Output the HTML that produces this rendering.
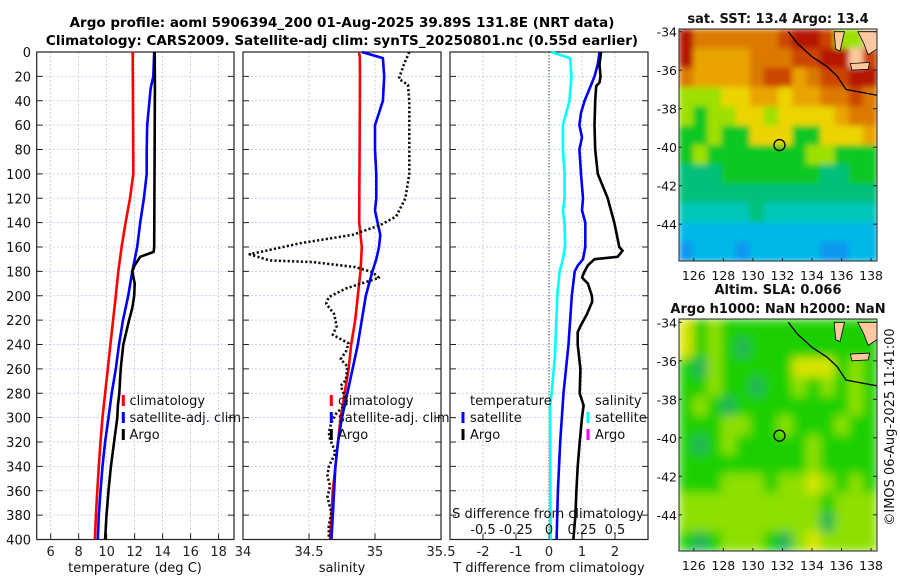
<!DOCTYPE html>
<html><head><meta charset="utf-8"><style>
html,body{margin:0;padding:0;background:#fff;}
svg{display:block;font-family:"DejaVu Sans","Liberation Sans",sans-serif;}
</style></head><body>
<svg id="fig" width="900" height="580" viewBox="0 0 900 580" xmlns="http://www.w3.org/2000/svg">
<defs>
<filter id="soft" x="0" y="0" width="1" height="1"><feGaussianBlur stdDeviation="3" edgeMode="duplicate"/></filter>
<filter id="soft2" x="0" y="0" width="1" height="1"><feGaussianBlur stdDeviation="5" edgeMode="duplicate"/></filter>
<clipPath id="clip1"><rect x="679" y="29" width="198" height="232"/></clipPath>
<clipPath id="clip2"><rect x="679" y="319" width="198" height="232"/></clipPath>
</defs>
<text x="342" y="27" text-anchor="middle" font-size="13.5" font-weight="bold">Argo profile: aoml 5906394_200 01-Aug-2025 39.89S 131.8E (NRT data)</text>
<text x="342" y="45" text-anchor="middle" font-size="13.5" font-weight="bold">Climatology: CARS2009. Satellite-adj clim: synTS_20250801.nc (0.55d earlier)</text>
<g id="plots"></g>
</svg>
<script>
// ---------- data ----------
const depthTicks = [0,20,40,60,80,100,120,140,160,180,200,220,240,260,280,300,320,340,360,380,400];
const tempTicks = [6,8,10,12,14,16,18];
const salTicks = [34,34.5,35,35.5];
const salTickLabels = ["34","34.5","35","35.5"];
const diffTicks = [-2,-1,0,1,2];
const sdiffTicks = [-0.5,-0.25,0,0.25,0.5];
const sdiffTickLabels = ["-0.5","-0.25","0","0.25","0.5"];

const tClimDepth = [0,100,120,140,160,180,200,220,240,260,280,300,320,340,360,380,400];
const tClim = [11.86,11.9,11.67,11.35,11.07,10.83,10.65,10.46,10.27,10.08,9.89,9.7,9.56,9.44,9.33,9.23,9.16];
const tSatDepth = [0,20,30,60,80,100,120,140,160,180,200,220,240,260,280,300,320,340,360,380,400];
const tSat = [13.4,13.33,13.14,12.9,12.86,12.86,12.66,12.4,12.18,11.83,11.54,11.17,10.88,10.65,10.36,10.13,9.89,9.7,9.56,9.44,9.37];
const tArgoDepth = [0,30,160,164,168,175,180,190,200,210,220,240,260,280,290,300,320,340,360,380,400];
const tArgo = [13.43,13.45,13.4,13.36,12.4,12.0,11.83,12.0,11.97,11.83,11.6,11.19,11.0,10.9,10.8,10.76,10.53,10.3,10.13,9.99,9.89];

const sClimDepth = [0,5,20,140,160,180,200,220,240,260,280,300,320,340,360,380,400];
const sClim = [34.88,34.885,34.886,34.88,34.9,34.89,34.87,34.85,34.82,34.8,34.77,34.74,34.72,34.7,34.68,34.67,34.66];
const sSatDepth = [0,5,20,40,50,60,80,100,120,130,140,150,160,170,180,200,220,240,260,280,300,320,340,360,380,400];
const sSat = [34.9,35.06,35.07,35.06,35.03,35.0,35.0,35.01,35.01,35.0,35.02,35.04,35.03,35.01,34.98,34.93,34.9,34.87,34.83,34.79,34.75,34.72,34.7,34.69,34.68,34.67];
const sArgoDepth = [0,10,22,27,40,100,120,135,142,150,157,166,171,172.4,176.5,180.6,185.3,188.8,194,201,206.5,215,225,232,239,245.6,252,258,269,274,288,296,304,312,318,323,329,340,348,356,365,370,378,389,400];
const sArgo = [35.26,35.22,35.18,35.25,35.26,35.26,35.23,35.16,35.04,34.83,34.43,34.05,34.2,34.53,34.85,34.98,35.03,34.93,34.78,34.65,34.63,34.69,34.71,34.68,34.8,34.78,34.74,34.79,34.78,34.74,34.79,34.71,34.67,34.65,34.66,34.68,34.7,34.65,34.64,34.66,34.64,34.65,34.67,34.65,34.65];

const dSatDepth = [0,10,20,30,40,50,60,70,80,100,120,130,140,160,170,175,180,200,240,280,320,360,400];
const dSat = [1.53,1.48,1.38,1.23,1.08,0.97,0.92,1.0,0.92,0.97,1.03,1.0,1.1,1.1,1.03,0.88,0.78,0.69,0.59,0.44,0.34,0.27,0.23];
const dArgoDepth = [0,10,20,25,28,40,60,80,100,120,140,160,163,168,170,175,180,185,190,200,205,215,225,230,240,260,280,290,300,320,340,360,380,400];
const dArgo = [1.58,1.53,1.56,1.53,1.43,1.4,1.38,1.4,1.48,1.78,1.98,2.13,2.23,2.08,1.38,1.18,1.08,1.0,1.18,1.3,1.31,1.15,0.95,0.87,0.87,0.95,0.93,1.05,1.0,0.93,0.87,0.83,0.8,0.74];
const sdSatDepth = [0,5,20,40,60,80,100,120,130,140,160,170,180,200,250,280,290,400];
const sdSat = [0.018,0.16,0.17,0.155,0.105,0.105,0.118,0.118,0.105,0.118,0.122,0.105,0.08,0.063,0.045,0.02,0.008,0.012];

// ---------- helpers ----------
const NS="http://www.w3.org/2000/svg";
const root=document.getElementById('plots');
function mk(tag,attrs,parent){const e=document.createElementNS(NS,tag);for(const k in attrs)e.setAttribute(k,attrs[k]);(parent||root).appendChild(e);return e;}
const Y0=52,Y1=539.5;
function yD(d){return Y0+(Y1-Y0)*d/400;}
function lin(d0,d1,r0,r1){return v=>r0+(v-d0)*(r1-r0)/(d1-d0);}

function panel(name,x0,x1,xs,xt,xtl,gridX){
  const g=mk('g',{});
  
  
  depthTicks.forEach(d=>{if(d>0&&d<400){const l=mk('line',{x1:x0,x2:x1,y1:yD(d),y2:yD(d),stroke:'#b8c4f0','stroke-width':0.8,'stroke-dasharray':'2,2'},g);}});
  gridX.forEach(v=>{const l=mk('line',{x1:xs(v),x2:xs(v),y1:Y0,y2:Y1,stroke:'#c8c0e0','stroke-width':0.8,'stroke-dasharray':'2,2'},g);});
  depthTicks.forEach(d=>{mk('line',{x1:x0,x2:x0+6,y1:yD(d),y2:yD(d),stroke:'#222','stroke-width':1},g);mk('line',{x1:x1-6,x2:x1,y1:yD(d),y2:yD(d),stroke:'#222','stroke-width':1},g);});
  xt.forEach((v,i)=>{mk('line',{x1:xs(v),x2:xs(v),y1:Y1,y2:Y1-6,stroke:'#222','stroke-width':1},g);
    const t=mk('text',{x:xs(v),y:556,'text-anchor':'middle','font-size':13,fill:'#222'},g);t.textContent=xtl[i];
    });
  const b=mk('rect',{x:x0,y:Y0,width:x1-x0,height:Y1-Y0,fill:'none',stroke:'#222','stroke-width':1.2},g);
  
  return g;
}
function line(g,name,xs,vals,depths,color,dash){
  const pts=vals.map((v,i)=>xs(v).toFixed(1)+','+yD(depths[i]).toFixed(1)).join(' ');
  const p=mk('polyline',{points:pts,fill:'none',stroke:color,'stroke-width':2.6,'stroke-linejoin':'round'},g);
  if(dash)p.setAttribute('stroke-dasharray',dash);
  
  
}
function txt(g,name,x,y,s,size,anchor){const t=mk('text',{x:x,y:y,'font-size':size||13,'text-anchor':anchor||'start',fill:'#111'},g);t.textContent=s;return t;}
function legMark(g,name,x,y,color){const r=mk('rect',{x:x-1.5,y:y-11,width:3,height:11,fill:color},g);}

// ---------- panel 1: temperature ----------
const xT=lin(5,19.1,36.7,234);
const p1=panel('temperature-panel',36.7,234,xT,tempTicks,tempTicks.map(String),tempTicks);
depthTicks.forEach(d=>{txt(p1,'y-tick-label',31,yD(d)+5,String(d),13,'end');});
line(p1,'temp-climatology-line',xT,tClim,tClimDepth,'#ff0000');
line(p1,'temp-satellite-line',xT,tSat,tSatDepth,'#0000ff');
line(p1,'temp-argo-line',xT,tArgo,tArgoDepth,'#000000');
legMark(p1,'legend-climatology-marker',123.3,406,'#ff0000');txt(p1,'legend-climatology',129.5,405,'climatology');
legMark(p1,'legend-satellite-marker',123.3,423,'#0000ff');txt(p1,'legend-satellite',129.5,422,'satellite-adj. clim');
legMark(p1,'legend-argo-marker',123.3,440,'#000000');txt(p1,'legend-argo',129.5,439,'Argo');
txt(p1,'x-axis-title-temperature',135,572,'temperature (deg C)',13,'middle');

// ---------- panel 2: salinity ----------
const xS=lin(34,35.5,243,441);
const p2=panel('salinity-panel',243,441,xS,salTicks,salTickLabels,[34.5,35]);
line(p2,'sal-climatology-line',xS,sClim,sClimDepth,'#ff0000');
line(p2,'sal-satellite-line',xS,sSat,sSatDepth,'#0000ff');
line(p2,'sal-argo-line',xS,sArgo,sArgoDepth,'#111111','2.2,2.2');
legMark(p2,'legend-climatology-marker',331.3,406,'#ff0000');txt(p2,'legend-climatology',338,405,'climatology');
legMark(p2,'legend-satellite-marker',331.3,423,'#0000ff');txt(p2,'legend-satellite',338,422,'satellite-adj. clim');
legMark(p2,'legend-argo-marker',331.3,440,'#000000');txt(p2,'legend-argo',338,439,'Argo');
txt(p2,'x-axis-title-salinity',342,572,'salinity',13,'middle');

// ---------- panel 3: differences ----------
const xD=lin(-3,3,450,648);
const xSD=lin(-0.75,0.75,450,648);
const p3=panel('difference-panel',450,648,xD,diffTicks,diffTicks.map(String),[-2,-1,1,2]);
const z=mk('line',{x1:xD(0),x2:xD(0),y1:Y0,y2:Y1,stroke:'#406040','stroke-width':1,'stroke-dasharray':'1.5,1.5'},p3);

line(p3,'sal-diff-satellite-line',xSD,sdSat,sdSatDepth,'#00ffff');
line(p3,'temp-diff-satellite-line',xD,dSat,dSatDepth,'#0000ff');
line(p3,'temp-diff-argo-line',xD,dArgo,dArgoDepth,'#000000');
txt(p3,'legend-temperature-header',470,405,'temperature');
legMark(p3,'legend-temp-satellite-marker',463,423,'#0000ff');txt(p3,'legend-temp-satellite',470,422,'satellite');
legMark(p3,'legend-temp-argo-marker',463,440,'#000000');txt(p3,'legend-temp-argo',470,439,'Argo');
txt(p3,'legend-salinity-header',595,405,'salinity');
legMark(p3,'legend-sal-satellite-marker',588,423,'#00ffff');txt(p3,'legend-sal-satellite',595,422,'satellite');
legMark(p3,'legend-sal-argo-marker',588,440,'#ff00ff');txt(p3,'legend-sal-argo',595,439,'Argo');
txt(p3,'s-axis-title',548,518,'S difference from climatology',13,'middle');
sdiffTicks.forEach((v,i)=>{txt(p3,'s-tick-label',xSD(v),534,sdiffTickLabels[i],13,'middle');});
txt(p3,'x-axis-title-difference',549,572,'T difference from climatology',13,'middle');

// ---------- maps ----------
const sstColors={D:'#b41400',R:'#cc4400',O:'#dc7a00',A:'#eaa400',Y:'#ecd400',L:'#9ee000',G:'#10c820',T:'#00c07a',C:'#00c8b8',B:'#00b8e8',U:'#0898f0',P:'#ffc89c'};
const sstRows=["DOOOOOORDDRLLP","DAAAAOOORRDDPR","OAAAAORRAORRDD","LLLYYAAYAAOORO","LGLLYYLYYYYAOO","GGLGGYYYGGYYYA","GLGGGGGGGLLGGG","TTTGGGGGGGTTGG","TTTTTTTTTTTTTT","CCCCCTCCCCCCCC","BBBBBBBBBBBBBB","UBBBUBBBBBUUBB"];
const slaColors={Y:'#d8e400',L:'#8ee000',G:'#1ed000',D:'#20b458'};
const slaRows=["YGLGGGGGGGGGGG","YGLGDGGGGGGGGG","GDLGGGGGYYYGLG","GGLGGDGGLGLGLG","GLGDGGGGGGGGLG","GGGLLGGLGGGLGG","GDGLGGGGGLGGGG","GGGGGGGGGLGGGG","GGGLLLGLLYLGLG","LLLLLLLLLLGLLL","LLLLLLLLLLDLLL","GDGLLLGDLYLLLL"];
const latTicks=[-34,-36,-38,-40,-42,-44];
const lonTicks=[126,128,130,132,134,136,138];
const coastLon=[132.4,133,134,135,135.7,136.3,137,138.4];
const coastLat=[-34,-34.6,-35.3,-35.8,-36.3,-37,-37.1,-37.3];
const argoLon=131.8, argoLat=-39.89;

function map(name,top,lat34y,rows,colors,title1,title2,lonLabY,clip,filt){
  const g=mk('g',{});
  
  
  const L=679,R=877,Bt=top+232;
  const xl=lin(125,138.4,L,R), yl=lin(-34,-40,lat34y,lat34y+6*19.25);
  const cw=(R-L)/14, ch=(Bt-top)/12;
  const cells=mk('g',{'clip-path':'url(#'+clip+')'},g);
  const inner=mk('g',{filter:'url(#'+filt+')'},cells);
  
  
  rows.forEach((row,r)=>{for(let c=0;c<row.length;c++){mk('rect',{x:L+c*cw,y:top+r*ch,width:cw+0.6,height:ch+0.6,fill:colors[row[c]]},inner);}});
  const land=[[[135.5,-34],[136.2,-34],[135.9,-35.0],[135.6,-34.9]],[[137.1,-34],[138.4,-34],[138.4,-34.9],[137.8,-35.2],[137.5,-34.6]],[[136.6,-35.65],[137.9,-35.6],[137.8,-35.95],[136.7,-36.0]]];
  land.forEach(poly=>{const p=mk('polygon',{points:poly.map(q=>xl(q[0])+','+yl(q[1])).join(' '),fill:'#ffc8a0',stroke:'#000','stroke-width':0.8},g);});
  const cp=mk('polyline',{points:coastLon.map((v,i)=>xl(v)+','+yl(coastLat[i])).join(' '),fill:'none',stroke:'#000','stroke-width':1.3},g);
  
  const m=mk('circle',{cx:xl(argoLon),cy:yl(argoLat),r:5.5,fill:'none',stroke:'#000','stroke-width':1.3},g);
  
  const f=mk('rect',{x:L,y:top,width:R-L,height:Bt-top,fill:'none',stroke:'#222','stroke-width':1},g);
  
  latTicks.forEach(v=>{mk('line',{x1:R-4,x2:R,y1:yl(v),y2:yl(v),stroke:'#222'},g);mk('line',{x1:L,x2:L+3,y1:yl(v),y2:yl(v),stroke:'#222'},g);
    txt(g,'lat-tick-label',L-2,yl(v)+5,String(v),12.5,'end');});
  lonTicks.forEach(v=>{mk('line',{x1:xl(v),x2:xl(v),y1:Bt,y2:Bt-3,stroke:'#222'},g);txt(g,'lon-tick-label',xl(v),lonLabY,String(v),12.5,'middle');});
  if(title1){const t=txt(g,'map-title',778,title2?top-25:top-6,title1,13,'middle');t.setAttribute('font-weight','bold');}
  if(title2){const t=txt(g,'map-title-2',778,top-6,title2,13,'middle');t.setAttribute('font-weight','bold');}
}
map('sst-map',29,31.7,sstRows,sstColors,'sat. SST: 13.4 Argo: 13.4',null,280,'clip1','soft');
map('sla-map',319,322.3,slaRows,slaColors,'Altim. SLA: 0.066','Argo h1000: NaN h2000: NaN',570,'clip2','soft2');
const cr=txt(root,'copyright-label',0,0,'©IMOS 06-Aug-2025 11:41:00',13,'middle');
cr.setAttribute('transform','translate(894,427) rotate(-90)');
</script>
</body></html>
